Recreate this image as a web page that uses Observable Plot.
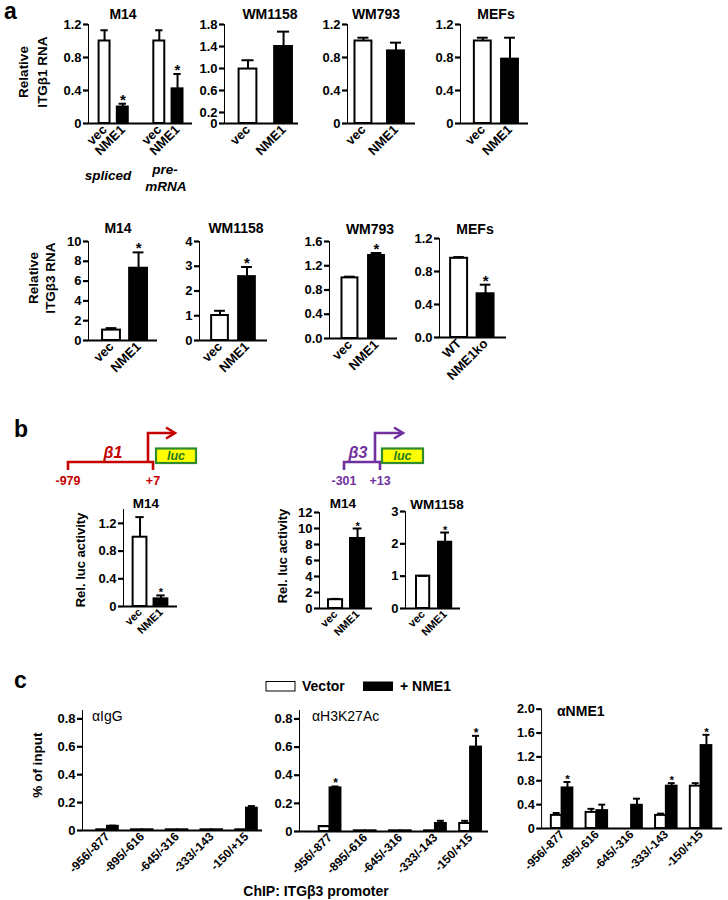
<!DOCTYPE html>
<html><head><meta charset="utf-8">
<script src="https://cdn.jsdelivr.net/npm/d3@7"></script>
<script src="https://cdn.jsdelivr.net/npm/@observablehq/plot@0.6"></script>
<style>
body{margin:0;background:#fff;}
#fig{position:relative;width:728px;height:900px;overflow:hidden;background:#fff;}
#fig .chart{position:absolute;}
#fig .chart svg{overflow:visible;}
</style></head><body><div id="fig"></div><script>
// ---------------- DATA ----------------
// Panel a – relative ITGβ1 RNA (bar mean, top of error bar, significance)
const itgb1M14Labels = ["vec", "NME1", "vec", "NME1"];
const itgb1M14Mean = [1.00, 0.20, 1.00, 0.42];
const itgb1M14Top = [1.13, 0.24, 1.13, 0.60];
const itgb1M14Sig = [0, 1, 0, 1];
const itgb1M14Groups = ["spliced", "pre-", "mRNA"];
const itgb1WM1158Labels = ["vec", "NME1"];
const itgb1WM1158Mean = [0.99, 1.40];
const itgb1WM1158Top = [1.15, 1.67];
const itgb1WM1158Sig = [0, 0];
const itgb1WM793Labels = ["vec", "NME1"];
const itgb1WM793Mean = [1.00, 0.88];
const itgb1WM793Top = [1.04, 0.98];
const itgb1WM793Sig = [0, 0];
const itgb1MEFLabels = ["vec", "NME1"];
const itgb1MEFMean = [1.00, 0.78];
const itgb1MEFTop = [1.04, 1.04];
const itgb1MEFSig = [0, 0];
// Panel a – relative ITGβ3 RNA
const itgb3M14Labels = ["vec", "NME1"];
const itgb3M14Mean = [1.05, 7.30];
const itgb3M14Top = [1.25, 8.90];
const itgb3M14Sig = [0, 1];
const itgb3WM1158Labels = ["vec", "NME1"];
const itgb3WM1158Mean = [1.01, 2.58];
const itgb3WM1158Top = [1.20, 2.97];
const itgb3WM1158Sig = [0, 1];
const itgb3WM793Labels = ["vec", "NME1"];
const itgb3WM793Mean = [1.00, 1.37];
const itgb3WM793Top = [1.02, 1.41];
const itgb3WM793Sig = [0, 1];
const itgb3MEFLabels = ["WT", "NME1ko"];
const itgb3MEFMean = [0.96, 0.53];
const itgb3MEFTop = [0.975, 0.64];
const itgb3MEFSig = [0, 1];
// Panel b – relative luciferase activity
const lucB1M14Labels = ["vec", "NME1"];
const lucB1M14Mean = [1.00, 0.11];
const lucB1M14Top = [1.29, 0.16];
const lucB1M14Sig = [0, 1];
const lucB3M14Labels = ["vec", "NME1"];
const lucB3M14Mean = [1.10, 8.75];
const lucB3M14Top = [1.20, 10.0];
const lucB3M14Sig = [0, 1];
const lucB3WM1158Labels = ["vec", "NME1"];
const lucB3WM1158Mean = [1.00, 2.05];
const lucB3WM1158Top = [1.01, 2.35];
const lucB3WM1158Sig = [0, 1];
// Panel c – ChIP, % of input
const chipRegions = ["-956/-877", "-895/-616", "-645/-316", "-333/-143", "-150/+15"];
const chipSeries = ["Vector", "+ NME1"];
const chipIgGVec = [0.005, 0.005, 0.005, 0.005, 0.005];
const chipIgGVecTop = [0.005, 0.005, 0.005, 0.005, 0.005];
const chipIgGNme = [0.03, 0.005, 0.005, 0.005, 0.16];
const chipIgGNmeTop = [0.035, 0.005, 0.005, 0.005, 0.175];
const chipIgGNmeSig = [0, 0, 0, 0, 0];
const chipH3Vec = [0.035, 0.005, 0.005, 0.005, 0.057];
const chipH3VecTop = [0.038, 0.005, 0.005, 0.005, 0.076];
const chipH3Nme = [0.31, 0.005, 0.005, 0.057, 0.60];
const chipH3NmeTop = [0.32, 0.005, 0.005, 0.076, 0.68];
const chipH3NmeSig = [1, 0, 0, 0, 1];
const chipNmeVec = [0.22, 0.27, 0, 0.22, 0.71];
const chipNmeVecTop = [0.26, 0.33, 0, 0.25, 0.76];
const chipNmeNme = [0.68, 0.30, 0.39, 0.71, 1.39];
const chipNmeNmeTop = [0.78, 0.40, 0.50, 0.76, 1.57];
const chipNmeNmeSig = [1, 0, 0, 1, 1];

// ---------------- DRAWING ----------------
const FONT = '"Liberation Sans", Arial, Helvetica, sans-serif';
const fig = document.getElementById("fig");
const f0 = v => v === 0 ? "0" : v.toFixed(1);
const f1 = v => v.toFixed(1);
const fi = v => String(v);
const isCtrl = l => l === "vec" || l === "WT" || l === "Vector";

function chart(cfg) {
  const {frame: [L, R, T, B], items, ticks, xDomain, cap, yDomain, yTicks, yFmt,
         tickFont = 13, xFont = 13, starFont = 15, sw = 2} = cfg;
  const mL = 42, mR = 6, mT = 16, mB = 60;
  const fmt = new Map(ticks.map(t => [t.x, t.label]));
  const withErr = items.filter(d => d.top > d.mean + 1e-9);
  const bar = (data, fill) => Plot.rect(data, {x1: d => d.cx - d.hw, x2: d => d.cx + d.hw, y1: 0, y2: "mean", fill, stroke: "black", strokeWidth: sw});
  const plot = Plot.plot({
    width: (R - L) + mL + mR, height: (B - T) + mT + mB,
    marginLeft: mL, marginRight: mR, marginTop: mT, marginBottom: mB,
    style: {fontFamily: FONT, fontWeight: "bold", fontSize: tickFont + "px", color: "#000", background: "transparent", overflow: "visible"},
    x: {domain: xDomain, ticks: ticks.map(t => t.x), tickFormat: v => fmt.get(v) ?? "", tickRotate: -45, tickSize: 0, tickPadding: 4, label: null},
    y: {domain: yDomain, ticks: yTicks, tickFormat: yFmt, tickSize: 5, tickPadding: 2, line: true, label: null},
    marks: [
      bar(items.filter(d => d.ctrl), "white"),
      bar(items.filter(d => !d.ctrl), "black"),
      Plot.ruleX(withErr, {x: "cx", y1: "mean", y2: "top", strokeWidth: sw}),
      Plot.ruleY(withErr, {y: "top", x1: d => d.cx - cap, x2: d => d.cx + cap, strokeWidth: sw}),
      Plot.text(items.filter(d => d.sig), {x: "cx", y: "top", text: () => "*", dy: 1, lineAnchor: "bottom", fontSize: starFont}),
      Plot.ruleY([0], {strokeWidth: 2.2})
    ]
  });
  d3.select(plot).selectAll('[aria-label^="y-axis"] line, [aria-label^="y-axis"] path').style("stroke-width", "2.2px");
  d3.select(plot).selectAll('[aria-label^="x-axis"] text').style("font-size", xFont + "px");
  const div = document.createElement("div");
  div.className = "chart";
  div.style.left = (L - mL) + "px";
  div.style.top = (T - mT) + "px";
  div.appendChild(plot);
  fig.appendChild(div);
}

// simple two/four bar chart; slots give the band positions of the bars
function simple(frame, labels, means, tops, sig, layout, y, fonts = {}) {
  const {slots, pad, hw, cap} = layout;
  const items = labels.map((l, i) => ({cx: slots[i], hw, mean: means[i], top: tops[i], sig: !!sig[i], ctrl: isCtrl(l)}));
  chart({frame, items, ticks: labels.map((l, i) => ({x: slots[i], label: l})),
    xDomain: [d3.min(slots) - pad[0], d3.max(slots) + pad[1]], cap, ...y, ...fonts});
}

function grouped(frame, vec, vecTop, nme, nmeTop, sig, layout, y) {
  const {pad, bw, cap} = layout;
  const items = [];
  chipRegions.forEach((r, i) => {
    items.push({cx: i - bw / 2, hw: bw / 2, mean: vec[i], top: vecTop[i], sig: false, ctrl: true});
    items.push({cx: i + bw / 2, hw: bw / 2, mean: nme[i], top: nmeTop[i], sig: !!sig[i], ctrl: false});
  });
  chart({frame, items, ticks: chipRegions.map((r, i) => ({x: i, label: r})),
    xDomain: [-pad[0], chipRegions.length - 1 + pad[1]], cap, ...y, xFont: 12, starFont: 12});
}

const yB1 = {yDomain: [0, 1.2], yTicks: [0, 0.4, 0.8, 1.2], yFmt: f0};
// Panel a, top row
simple([88, 192, 24, 123], itgb1M14Labels, itgb1M14Mean, itgb1M14Top, itgb1M14Sig,
  {slots: [0, 1, 3, 4], pad: [0.88, 0.82], hw: 0.3, cap: 0.2}, yB1);
simple([224, 298, 24, 123], itgb1WM1158Labels, itgb1WM1158Mean, itgb1WM1158Top, itgb1WM1158Sig,
  {slots: [0, 1], pad: [0.66, 0.42], hw: 0.25, cap: 0.17},
  {yDomain: [0, 1.8], yTicks: [0, 0.2, 0.6, 1.0, 1.4, 1.8], yFmt: f0});
simple([347, 415, 24, 123], itgb1WM793Labels, itgb1WM793Mean, itgb1WM793Top, itgb1WM793Sig,
  {slots: [0, 1], pad: [0.49, 0.6], hw: 0.26, cap: 0.17}, yB1);
simple([460, 528, 24, 123], itgb1MEFLabels, itgb1MEFMean, itgb1MEFTop, itgb1MEFSig,
  {slots: [0, 1], pad: [0.82, 0.68], hw: 0.31, cap: 0.2}, yB1);
// Panel a, bottom row
simple([88, 157, 241, 340], itgb3M14Labels, itgb3M14Mean, itgb3M14Top, itgb3M14Sig,
  {slots: [0, 1], pad: [0.85, 0.7], hw: 0.33, cap: 0.2},
  {yDomain: [0, 10], yTicks: [0, 2, 4, 6, 8, 10], yFmt: fi});
simple([199, 267, 241, 340], itgb3WM1158Labels, itgb3WM1158Mean, itgb3WM1158Top, itgb3WM1158Sig,
  {slots: [0, 1], pad: [0.76, 0.76], hw: 0.31, cap: 0.2},
  {yDomain: [0, 4], yTicks: [0, 1, 2, 3, 4], yFmt: fi});
simple([329, 397, 241, 338], itgb3WM793Labels, itgb3WM793Mean, itgb3WM793Top, itgb3WM793Sig,
  {slots: [0, 1], pad: [0.77, 0.79], hw: 0.3, cap: 0.2},
  {yDomain: [0, 1.6], yTicks: [0, 0.4, 0.8, 1.2, 1.6], yFmt: f1});
simple([439, 506, 238, 337], itgb3MEFLabels, itgb3MEFMean, itgb3MEFTop, itgb3MEFSig,
  {slots: [0, 1], pad: [0.74, 0.79], hw: 0.32, cap: 0.2},
  {yDomain: [0, 1.2], yTicks: [0, 0.4, 0.8, 1.2], yFmt: f1});
// Panel b
simple([123, 177, 509, 606], lucB1M14Labels, lucB1M14Mean, lucB1M14Top, lucB1M14Sig,
  {slots: [0, 1], pad: [0.79, 0.79], hw: 0.33, cap: 0.2},
  {yDomain: [0, 1.4], yTicks: [0, 0.4, 0.8, 1.2], yFmt: f0}, {xFont: 11, starFont: 11});
simple([319, 372, 512, 608], lucB3M14Labels, lucB3M14Mean, lucB3M14Top, lucB3M14Sig,
  {slots: [0, 1], pad: [0.73, 0.68], hw: 0.32, cap: 0.2},
  {yDomain: [0, 12], yTicks: [0, 2, 4, 6, 8, 10, 12], yFmt: fi}, {xFont: 11, starFont: 11});
simple([405, 460, 511, 608], lucB3WM1158Labels, lucB3WM1158Mean, lucB3WM1158Top, lucB3WM1158Sig,
  {slots: [0, 1], pad: [0.8, 0.7], hw: 0.3, cap: 0.2},
  {yDomain: [0, 3], yTicks: [0, 1, 2, 3], yFmt: fi}, {xFont: 11, starFont: 11});
// Panel c
const yChip = {yDomain: [0, 0.86], yTicks: [0, 0.2, 0.4, 0.6, 0.8], yFmt: f0};
grouped([82, 262, 710, 830], chipIgGVec, chipIgGVecTop, chipIgGNme, chipIgGNmeTop, chipIgGNmeSig,
  {pad: [0.72, 0.46], bw: 0.31, cap: 0.1}, yChip);
grouped([299, 488, 710, 831], chipH3Vec, chipH3VecTop, chipH3Nme, chipH3NmeTop, chipH3NmeSig,
  {pad: [0.87, 0.51], bw: 0.31, cap: 0.1}, yChip);
grouped([542, 727, 709, 831], chipNmeVec, chipNmeVecTop, chipNmeNme, chipNmeNmeTop, chipNmeNmeSig,
  {pad: [0.59, 0.62], bw: 0.31, cap: 0.1},
  {yDomain: [0, 2], yTicks: [0, 0.4, 0.8, 1.2, 1.6, 2.0], yFmt: f0});

// ---------------- ANNOTATIONS ----------------
const ov = d3.select(fig).append("svg")
  .attr("width", 728).attr("height", 900)
  .style("position", "absolute").style("left", 0).style("top", 0)
  .style("pointer-events", "none")
  .attr("font-family", FONT).attr("font-weight", "bold");
function txt(x, y, s, o = {}) {
  const t = ov.append("text").attr("x", x).attr("y", y).text(s)
    .attr("font-size", o.size || 13).attr("text-anchor", o.anchor || "middle")
    .attr("fill", o.color || "#000");
  if (o.italic) t.attr("font-style", "italic");
  if (o.weight) t.attr("font-weight", o.weight);
  if (o.rot) t.attr("transform", `rotate(-90 ${x} ${y})`);
  return t;
}
// panel letters
txt(4, 19, "a", {size: 23, anchor: "start"});
txt(14, 437, "b", {size: 23, anchor: "start"});
txt(14, 688, "c", {size: 23, anchor: "start"});
// panel a titles
txt(123, 19, "M14", {size: 14});
txt(270, 19, "WM1158", {size: 14});
txt(376, 19, "WM793", {size: 14});
txt(496, 19, "MEFs", {size: 14});
txt(118, 233, "M14", {size: 14});
txt(236, 233, "WM1158", {size: 14});
txt(370, 234, "WM793", {size: 14});
txt(475, 234, "MEFs", {size: 14});
txt(27.5, 72, "Relative", {rot: true, size: 13.5});
txt(46.5, 72, "ITGβ1 RNA", {rot: true, size: 13.5});
txt(38, 278, "Relative", {rot: true, size: 13.5});
txt(54.5, 278, "ITGβ3 RNA", {rot: true, size: 13.5});
txt(108, 180, itgb1M14Groups[0], {italic: true, size: 13.5});
txt(165, 174, itgb1M14Groups[1], {italic: true, size: 13.5});
txt(166, 191, itgb1M14Groups[2], {italic: true, size: 13.5});
// panel b titles
txt(146, 508, "M14", {size: 13.5});
txt(343, 508, "M14", {size: 13.5});
txt(437, 509, "WM1158", {size: 13.5});
txt(84.5, 560, "Rel. luc activity", {rot: true});
txt(286.5, 556, "Rel. luc activity", {rot: true});
// promoter schematics
function promoter(col, x0, x1, xs, xa, lab, labX, l0, l1, box) {
  const g = ov.append("g").attr("fill", "none").attr("stroke", col).attr("stroke-width", 2.6);
  g.append("path").attr("d", `M${x0},470V462H${x1}V470`);
  g.append("path").attr("d", `M${xs},462V433H${xa}`);
  g.append("path").attr("d", `M${xa - 8},427.5L${xa + 1},433L${xa - 8},438.5`);
  txt(labX, 458, lab, {size: 16, italic: true, color: col});
  txt(x0, 485, l0, {size: 12.5, color: col});
  txt(x1, 485, l1, {size: 12.5, color: col});
  ov.append("rect").attr("x", box[0]).attr("y", 448.5).attr("width", box[1] - box[0]).attr("height", 14.5)
    .attr("fill", "#ffff00").attr("stroke", "#2e8b2e").attr("stroke-width", 2.2);
  txt((box[0] + box[1]) / 2, 460, "luc", {size: 12.5, italic: true, color: "#1f7a1f"});
}
promoter("#c40000", 68, 153, 148, 174, "β1", 113, "-979", "+7", [156, 196]);
promoter("#7030a0", 344, 380, 375, 402, "β3", 358, "-301", "+13", [382, 423]);
// panel c annotations
ov.append("rect").attr("x", 266).attr("y", 681.5).attr("width", 29).attr("height", 9.5).attr("fill", "white").attr("stroke", "#000").attr("stroke-width", 1);
txt(302, 691, chipSeries[0], {anchor: "start", size: 14});
ov.append("rect").attr("x", 363).attr("y", 681.5).attr("width", 30).attr("height", 9.5).attr("fill", "#000");
txt(400, 691, chipSeries[1], {anchor: "start", size: 14});
txt(92, 721, "αIgG", {anchor: "start", size: 14, weight: "normal"});
txt(312, 721, "αH3K27Ac", {anchor: "start", size: 14, weight: "normal"});
txt(557, 716, "αNME1", {anchor: "start", size: 14});
txt(42, 765, "% of input", {rot: true, size: 13.5});
txt(316, 896, "ChIP: ITGβ3 promoter", {size: 14});
</script></body></html>
